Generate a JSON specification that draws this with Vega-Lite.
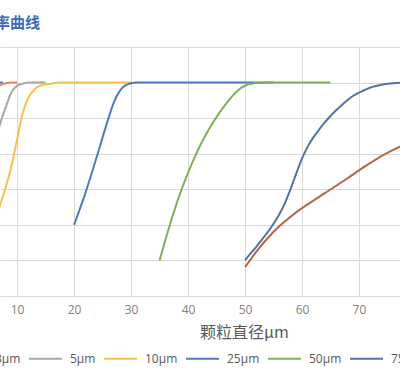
{
  "$schema": "https://vega.github.io/schema/vega-lite/v6.json",
  "width": 400,
  "height": 249,
  "autosize": {"type": "none"},
  "padding": {"top": 47, "bottom": 78, "left": 0, "right": 0},
  "background": "white",
  "title": {"text": "分布率曲线", "anchor": "start", "frame": "group", "dx": -35, "offset": 16, "fontSize": 15, "font": "Noto Sans CJK SC", "fontWeight": "bold", "color": "#3B6BB4"},
  "config": {"view": {"stroke": null}},
  "data": {"values": [
    {"s": "1μm", "x": 1, "y": 70}, {"s": "1μm", "x": 2, "y": 90}, {"s": "1μm", "x": 3, "y": 97}, {"s": "1μm", "x": 4, "y": 99}, {"s": "1μm", "x": 5, "y": 99.7}, {"s": "1μm", "x": 6, "y": 100}, {"s": "1μm", "x": 7.5, "y": 100},
    {"s": "3μm", "x": 3, "y": 65}, {"s": "3μm", "x": 4, "y": 82}, {"s": "3μm", "x": 5, "y": 92}, {"s": "3μm", "x": 6, "y": 97}, {"s": "3μm", "x": 7, "y": 99.3}, {"s": "3μm", "x": 8, "y": 99.8}, {"s": "3μm", "x": 9, "y": 100}, {"s": "3μm", "x": 10, "y": 100},
    {"s": "5μm", "x": 3, "y": 55}, {"s": "5μm", "x": 4, "y": 65}, {"s": "5μm", "x": 5, "y": 73}, {"s": "5μm", "x": 6, "y": 81}, {"s": "5μm", "x": 7, "y": 88.3}, {"s": "5μm", "x": 8, "y": 93}, {"s": "5μm", "x": 9, "y": 97.3}, {"s": "5μm", "x": 10, "y": 99.1}, {"s": "5μm", "x": 11, "y": 99.7}, {"s": "5μm", "x": 12, "y": 100}, {"s": "5μm", "x": 15, "y": 100},
    {"s": "10μm", "x": 5, "y": 55}, {"s": "10μm", "x": 6, "y": 60}, {"s": "10μm", "x": 7, "y": 65.5}, {"s": "10μm", "x": 8, "y": 70.5}, {"s": "10μm", "x": 9, "y": 76.5}, {"s": "10μm", "x": 10, "y": 84}, {"s": "10μm", "x": 11, "y": 91.5}, {"s": "10μm", "x": 12, "y": 95.8}, {"s": "10μm", "x": 13, "y": 98}, {"s": "10μm", "x": 14, "y": 99.1}, {"s": "10μm", "x": 16, "y": 99.7}, {"s": "10μm", "x": 18, "y": 100}, {"s": "10μm", "x": 20, "y": 100}, {"s": "10μm", "x": 25, "y": 100}, {"s": "10μm", "x": 30, "y": 100},
    {"s": "25μm", "x": 20, "y": 60}, {"s": "25μm", "x": 21, "y": 64.4}, {"s": "25μm", "x": 22, "y": 69}, {"s": "25μm", "x": 23, "y": 74}, {"s": "25μm", "x": 24, "y": 79.2}, {"s": "25μm", "x": 25, "y": 84.6}, {"s": "25μm", "x": 26, "y": 89.8}, {"s": "25μm", "x": 27, "y": 94.5}, {"s": "25μm", "x": 28, "y": 97.6}, {"s": "25μm", "x": 29, "y": 99.2}, {"s": "25μm", "x": 30, "y": 99.8}, {"s": "25μm", "x": 31, "y": 100}, {"s": "25μm", "x": 35, "y": 100}, {"s": "25μm", "x": 40, "y": 100}, {"s": "25μm", "x": 45, "y": 100}, {"s": "25μm", "x": 50, "y": 100}, {"s": "25μm", "x": 55, "y": 100},
    {"s": "50μm", "x": 35, "y": 50}, {"s": "50μm", "x": 36, "y": 55.6}, {"s": "50μm", "x": 37, "y": 61}, {"s": "50μm", "x": 38, "y": 66}, {"s": "50μm", "x": 39, "y": 70.5}, {"s": "50μm", "x": 40, "y": 74.6}, {"s": "50μm", "x": 41, "y": 78.4}, {"s": "50μm", "x": 42, "y": 81.9}, {"s": "50μm", "x": 43, "y": 85}, {"s": "50μm", "x": 44, "y": 87.8}, {"s": "50μm", "x": 45, "y": 90.3}, {"s": "50μm", "x": 46, "y": 92.6}, {"s": "50μm", "x": 47, "y": 94.7}, {"s": "50μm", "x": 48, "y": 96.6}, {"s": "50μm", "x": 49, "y": 98.1}, {"s": "50μm", "x": 50, "y": 99.1}, {"s": "50μm", "x": 51, "y": 99.6}, {"s": "50μm", "x": 52, "y": 99.9}, {"s": "50μm", "x": 54, "y": 100}, {"s": "50μm", "x": 60, "y": 100}, {"s": "50μm", "x": 65, "y": 100},
    {"s": "75μm", "x": 50, "y": 50.1}, {"s": "75μm", "x": 51, "y": 52}, {"s": "75μm", "x": 52, "y": 53.9}, {"s": "75μm", "x": 53, "y": 55.9}, {"s": "75μm", "x": 54, "y": 58}, {"s": "75μm", "x": 55, "y": 60.3}, {"s": "75μm", "x": 56, "y": 62.9}, {"s": "75μm", "x": 57, "y": 66.1}, {"s": "75μm", "x": 58, "y": 70.1}, {"s": "75μm", "x": 59, "y": 74.5}, {"s": "75μm", "x": 60, "y": 78.6}, {"s": "75μm", "x": 61, "y": 82}, {"s": "75μm", "x": 62, "y": 84.6}, {"s": "75μm", "x": 63, "y": 86.8}, {"s": "75μm", "x": 64, "y": 88.8}, {"s": "75μm", "x": 65, "y": 90.6}, {"s": "75μm", "x": 66, "y": 92.2}, {"s": "75μm", "x": 67, "y": 93.7}, {"s": "75μm", "x": 68, "y": 95.1}, {"s": "75μm", "x": 69, "y": 96.3}, {"s": "75μm", "x": 70, "y": 97.2}, {"s": "75μm", "x": 71, "y": 97.9}, {"s": "75μm", "x": 72, "y": 98.6}, {"s": "75μm", "x": 74, "y": 99.4}, {"s": "75μm", "x": 76, "y": 99.8}, {"s": "75μm", "x": 78, "y": 100}, {"s": "75μm", "x": 80, "y": 100},
    {"s": "100μm", "x": 50, "y": 48.1}, {"s": "100μm", "x": 52, "y": 52.5}, {"s": "100μm", "x": 54, "y": 56.3}, {"s": "100μm", "x": 56, "y": 59.6}, {"s": "100μm", "x": 58, "y": 62.3}, {"s": "100μm", "x": 60, "y": 64.7}, {"s": "100μm", "x": 62, "y": 66.8}, {"s": "100μm", "x": 64, "y": 68.9}, {"s": "100μm", "x": 66, "y": 71}, {"s": "100μm", "x": 68, "y": 73.1}, {"s": "100μm", "x": 70, "y": 75.3}, {"s": "100μm", "x": 72, "y": 77.4}, {"s": "100μm", "x": 74, "y": 79.4}, {"s": "100μm", "x": 76, "y": 81.1}, {"s": "100μm", "x": 78, "y": 82.6}, {"s": "100μm", "x": 80, "y": 84}
  ]},
  "mark": {"type": "line", "interpolate": "monotone", "strokeWidth": 2, "clip": true},
  "encoding": {
    "x": {"field": "x", "type": "quantitative", "scale": {"domain": [7, 77.2], "nice": false, "zero": false},
      "axis": {"values": [10, 20, 30, 40, 50, 60, 70], "grid": true, "gridColor": "#d9d9d9", "ticks": false, "domainColor": "#d9d9d9", "labelFont": "Open Sans", "labelFontSize": 12, "labelColor": "#7f7f7f", "labelPadding": 8,
        "title": "颗粒直径μm", "titleFont": "Noto Sans CJK SC", "titleFontSize": 16, "titleFontWeight": "normal", "titleColor": "#595959", "titleX": 244, "titleY": 36, "titleBaseline": "middle", "titleAlign": "center"}},
    "y": {"field": "y", "type": "quantitative", "scale": {"domain": [40, 110], "nice": false, "zero": false},
      "axis": {"values": [40, 50, 60, 70, 80, 90, 100, 110], "grid": true, "gridColor": "#d9d9d9", "labels": false, "ticks": false, "domain": false, "title": null}},
    "color": {"field": "s", "type": "nominal",
      "scale": {"domain": ["1μm", "3μm", "5μm", "10μm", "25μm", "50μm", "75μm", "100μm"], "range": ["#4472C4", "#E9855A", "#A8A8A8", "#F7C244", "#5079C5", "#7DB057", "#4E74A6", "#B5663E"]},
      "legend": {"orient": "none", "direction": "horizontal", "legendX": -122, "legendY": 294, "title": null, "symbolType": "stroke", "symbolSize": 1089, "symbolStrokeWidth": 2, "labelFont": "Open Sans", "labelFontSize": 12, "labelColor": "#595959", "labelOffset": 7, "columnPadding": 4}}
  }
}
